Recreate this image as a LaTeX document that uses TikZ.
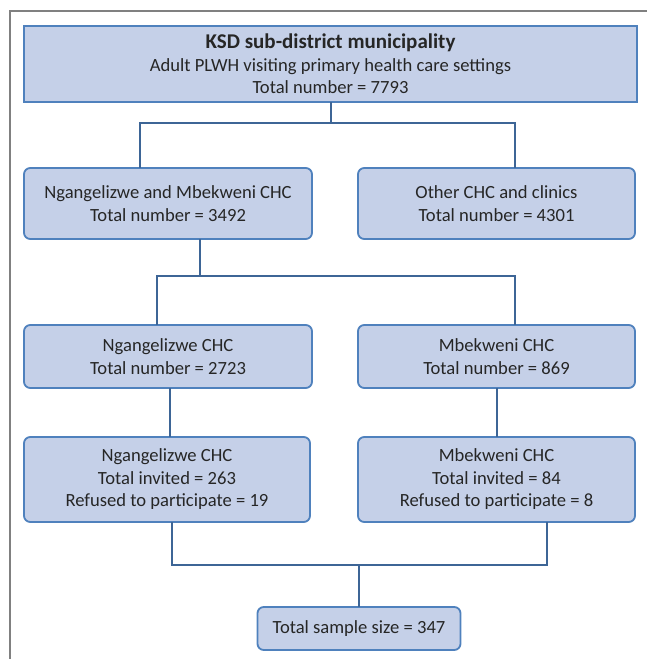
\documentclass[tikz,border=0pt]{standalone}
\usepackage{fontspec}
\setmainfont{Carlito}
\usepackage{tikz}
\usetikzlibrary{positioning}
\tikzstyle{chart} = [x = 1pt, y = -1pt]
\definecolor{boxFill}{RGB}{197,208,232}
\definecolor{boxBorder}{RGB}{79,129,189}
\definecolor{linkColor}{RGB}{61,101,150}
\definecolor{textColor}{RGB}{38,38,38}
\definecolor{frameColor}{RGB}{128,128,128}
\tikzstyle{boxStyle} = [draw=boxBorder, fill=boxFill, line width=1.8pt, rounded corners = .22cm, align=center, text=textColor, font=\fontsize{18.6}{22.5}\selectfont, inner sep=0pt, outer sep=0pt]
\tikzstyle{headBoxStyle} = [boxStyle, sharp corners]
\tikzstyle{linkLine} = [color=linkColor, line width=1.6pt]
\tikzstyle{frameLine} = [color=frameColor, line width=1.2pt]
\newcommand{\flowBox}[6]{\node [boxStyle, minimum width=#4, minimum height=#5] (#1) at (#2,#3) {#6};}

\begin{document}
\begin{tikzpicture}[chart]
  \useasboundingbox (0,0) rectangle (647,659);
  \draw [frameLine] (10,659) -- (10,11) -- (647,11);

  \node [headBoxStyle, minimum width=613, minimum height=76] (top) at (330.5,64)
    {{\fontsize{21}{22.5}\selectfont\bfseries KSD sub-district municipality}\\Adult PLWH visiting primary health care settings\\Total number = 7793};
  \flowBox{both}{168}{203.5}{288}{71}{Ngangelizwe and Mbekweni CHC\\Total number = 3492}
  \flowBox{other}{496.5}{203.5}{277}{71}{Other CHC and clinics\\Total number = 4301}
  \flowBox{ngaTotal}{168}{356.5}{288}{63}{Ngangelizwe CHC\\Total number = 2723}
  \flowBox{mbeTotal}{496.5}{356.5}{277}{63}{Mbekweni CHC\\Total number = 869}
  \flowBox{ngaInvited}{167}{479.5}{286}{85}{Ngangelizwe CHC\\Total invited = 263\\Refused to participate = 19}
  \flowBox{mbeInvited}{496.5}{479.5}{277}{85}{Mbekweni CHC\\Total invited = 84\\Refused to participate = 8}
  \flowBox{sample}{359}{628.5}{203}{43}{Total sample size = 347}

  \coordinate (splitTop) at (331,123);
  \coordinate (splitMid) at (200,276);
  \coordinate (joinLow) at (359,565);
  \draw [linkLine] ([xshift=0.5pt]top.south) -- (splitTop);
  \draw [linkLine] ([xshift=-28pt]both.north) |- (splitTop) -| ([xshift=18.5pt]other.north);
  \draw [linkLine] ([xshift=32pt]both.south) -- (splitMid);
  \draw [linkLine] ([xshift=-11pt]ngaTotal.north) |- (splitMid) -| ([xshift=18.5pt]mbeTotal.north);
  \draw [linkLine] ([xshift=2pt]ngaTotal.south) -- ([xshift=3pt]ngaInvited.north);
  \draw [linkLine] ([xshift=0.5pt]mbeTotal.south) -- ([xshift=0.5pt]mbeInvited.north);
  \draw [linkLine] ([xshift=5pt]ngaInvited.south) |- (joinLow) -| ([xshift=50.5pt]mbeInvited.south);
  \draw [linkLine] (joinLow) -- (sample.north);
\end{tikzpicture}
\end{document}
